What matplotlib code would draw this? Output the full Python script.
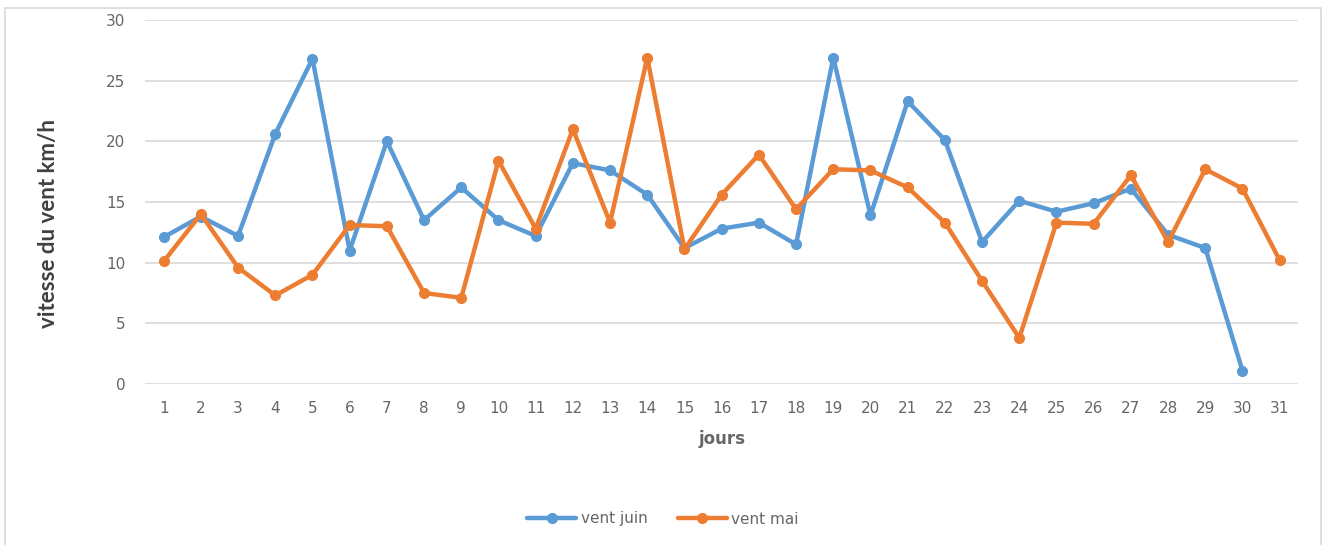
import matplotlib.pyplot as plt
from matplotlib.patches import Rectangle

# vitesse du vent journaliere (km/h)
jours = list(range(1, 32))
vent_juin = [12.1, 13.8, 12.2, 20.6, 26.8, 11.0, 20.0, 13.5, 16.2, 13.5,
             12.2, 18.2, 17.6, 15.6, 11.2, 12.8, 13.3, 11.5, 26.9, 13.9,
             23.3, 20.1, 11.7, 15.1, 14.2, 14.9, 16.1, 12.3, 11.2, 1.1]
vent_mai = [10.1, 14.0, 9.6, 7.3, 9.0, 13.1, 13.0, 7.5, 7.1, 18.4,
            12.8, 21.0, 13.3, 26.9, 11.1, 15.6, 18.9, 14.4, 17.7, 17.6,
            16.2, 13.3, 8.5, 3.8, 13.3, 13.2, 17.2, 11.7, 17.7, 16.1, 10.2]

bleu = '#5B9BD5'
orange = '#ED7D31'
gris = '#666666'

fig = plt.figure(figsize=(13.26, 5.45), dpi=100)
ax = fig.add_axes([0.1094, 0.2954, 0.8697, 0.668])

# cadre du graphique
fig.patches.append(Rectangle((5 / 1326, -0.05), 1316 / 1326, 1 - 8 / 545 + 0.05,
                             transform=fig.transFigure, fill=False,
                             edgecolor='#d9d9d9', linewidth=1.2))

ax.plot(jours[:len(vent_juin)], vent_juin, color=bleu, lw=3.2, marker='o',
        ms=7, label='vent juin', solid_capstyle='round')
ax.plot(jours, vent_mai, color=orange, lw=3.2, marker='o',
        ms=7, label='vent mai', solid_capstyle='round')

ax.set_xlim(0.5, 31.5)
ax.set_ylim(0, 30)
ax.set_yticks(range(0, 31, 5))
ax.set_xticks(jours)
ax.grid(axis='y', color='#d9d9d9', lw=1.2)
ax.set_axisbelow(True)
for s in ax.spines.values():
    s.set_visible(False)
ax.tick_params(length=0, labelsize=11, labelcolor=gris)
ax.tick_params(axis='y', pad=14)
ax.tick_params(axis='x', pad=12)

ax.set_xlabel('jours', fontsize=12, fontweight='bold', color=gris, labelpad=10)
fig.text(48 / 1326, 1 - 223 / 545, 'vitesse du vent km/h', rotation=90,
         ha='center', va='center', fontsize=16, fontweight='bold',
         color='#404040', family=['Lato', 'DejaVu Sans'])

fig.legend(loc='center', bbox_to_anchor=(0.5, 1 - 519 / 545), ncol=2,
           frameon=False, fontsize=11, labelcolor=gris, handlelength=3.2,
           handletextpad=0.3, columnspacing=2.0)

fig.savefig('out.png', dpi=100)
